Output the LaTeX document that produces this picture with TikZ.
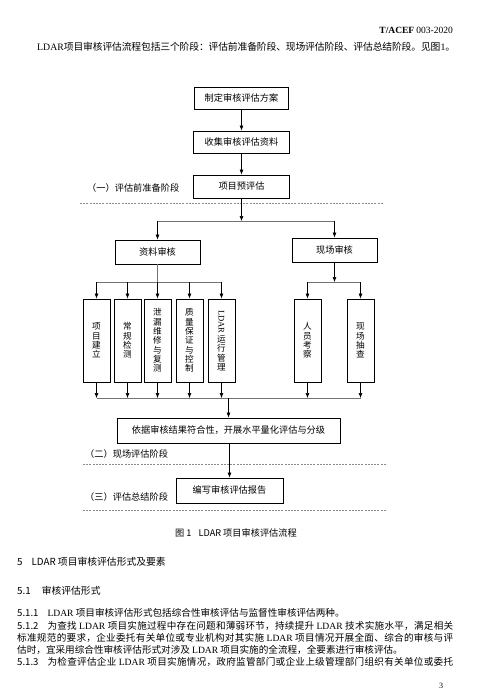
\documentclass[tikz,border=0pt]{standalone}
\usepackage{fontspec}
\usepackage{graphicx}
\setmainfont{Noto Sans CJK SC}
\newfontfamily\tms{Liberation Serif}
\usetikzlibrary{arrows.meta}
\newcount\cjkcc
\cjkcc="4E00
\loop \XeTeXcharclass\cjkcc=1 \advance\cjkcc by 1 \ifnum\cjkcc<"A000 \repeat
\XeTeXcharclass"3001=1 \XeTeXcharclass"3002=1 \XeTeXcharclass"FF0C=1 \XeTeXcharclass"FF1A=1
\XeTeXinterchartoks 1 1 = {\hskip 0pt plus 1pt minus 0.3pt\relax}
\XeTeXinterchartoks 0 1 = {\hskip 0pt plus 1pt minus 0.3pt\relax}
\XeTeXinterchartoks 1 0 = {\hskip 0pt plus 1pt minus 0.3pt\relax}
\newcommand\jline[2]{\makebox[#1][s]{\XeTeXinterchartokenstate=1 #2}}
\begin{document}
\begin{tikzpicture}[x=1pt,y=-1pt,
 box/.style={draw, line width=0.9pt, inner sep=0pt, font=\fontsize{9.2}{11}\selectfont},
 vbox/.style={draw, line width=0.9pt, inner sep=0pt, minimum width=27pt, minimum height=83pt, align=center, font=\fontsize{8.6}{9.3}\selectfont},
 arr/.style={-{Latex[length=5pt,width=4pt]}, line width=0.6pt},
 fork/.style={line width=0.6pt, draw=black!55},
 dsh/.style={draw=black!45, line width=0.5pt, dash pattern=on 2pt off 1.2pt},
 lbl/.style={anchor=west, inner sep=0pt, font=\fontsize{9.2}{11}\selectfont},
 txt/.style={anchor=west, inner sep=0pt}]
\fill[white] (0,0) rectangle (483,698);
\useasboundingbox (0,0) rectangle (483,698);

% header
\node[anchor=east, inner sep=0pt, font=\fontsize{9.5}{11}\selectfont] (hdr) at (453,30) {{\tms\bfseries T/ACEF} {\tms 003-2020}};
\node[txt, font=\fontsize{9.8}{12}\selectfont] (intro) at (37,47) {\jline{418pt}{{\tms LDAR}项目审核评估流程包括三个阶段：评估前准备阶段、现场评估阶段、评估总结阶段。见图{\tms 1}。}};

% flowchart
\node[box, minimum width=94pt, minimum height=22pt] (b1) at (241.5,98) {制定审核评估方案};
\node[box, minimum width=96pt, minimum height=22pt] (b2) at (241.5,142) {收集审核评估资料};
\node[box, minimum width=96pt, minimum height=23pt] (b3) at (241.5,186.5) {项目预评估};
\node[lbl] (l1) at (87,188) {（一）评估前准备阶段};
\draw[dsh] (80,203) -- (383,203);

\node[box, minimum width=85pt, minimum height=24pt] (zl) at (157.5,252) {资料审核};
\node[box, minimum width=85pt, minimum height=24pt] (xc) at (334.5,250) {现场审核};

\node[vbox] (v1) at (96.5,340.5) {项\\目\\建\\立};
\node[vbox] (v2) at (127.5,340.5) {常\\规\\检\\测};
\node[vbox] (v3) at (157.5,340.5) {泄\\漏\\维\\修\\与\\复\\测};
\node[vbox] (v4) at (189.5,340.5) {质\\量\\保\\证\\与\\控\\制};
\node[vbox] (v5) at (221.5,340.5) {\rotatebox{-90}{\tms LDAR}\\[1pt]运\\行\\管\\理};
\node[vbox] (v6) at (307.5,340.5) {人\\员\\考\\察};
\node[vbox] (v7) at (360.5,340.5) {现\\场\\抽\\查};

\node[box, minimum width=223pt, minimum height=25pt] (yj) at (228.5,430.5) {依据审核结果符合性，开展水平量化评估与分级};
\node[lbl] (l2) at (85,454) {（二）现场评估阶段};
\draw[dsh] (83,464) -- (387,464);
\node[box, minimum width=107pt, minimum height=25pt] (bx) at (229.5,490.5) {编写审核评估报告};
\node[lbl] (l3) at (85,497) {（三）评估总结阶段};
\draw[dsh] (83,510) -- (387,510);

% connectors
\draw[arr] (b1) -- (b2);
\draw[arr] (b2) -- (b3);
\coordinate (f1) at (241.5,221);
\draw[arr] (b3.south) -- (f1);
\draw[fork] (zl.north |- f1) -- (xc.north |- f1);
\draw[arr] (zl.north |- f1) -- (zl.north);
\draw[arr] (xc.north |- f1) -- (xc.north);
\coordinate (f2) at (0,282);
\draw[fork] (zl.south) -- (zl.south |- f2);
\draw[fork] (v1.north |- f2) -- (v5.north |- f2);
\foreach \i in {1,...,5} \draw[arr] (v\i.north |- f2) -- (v\i.north);
\draw[arr] (xc.south) -- (xc.south |- f2);
\draw[fork] (v6.north |- f2) -- (v7.north |- f2);
\foreach \i in {6,7} \draw[arr] (v\i.north |- f2) -- (v\i.north);
\coordinate (f3) at (0,398);
\foreach \i in {1,...,7} \draw[arr] (v\i.south) -- (v\i.south |- f3);
\draw[fork] (v1.south |- f3) -- (v7.south |- f3);
\draw[arr] (yj.north |- f3) -- (yj.north);
\draw[arr] (bx.north |- yj.south) -- (bx.north);

% caption and body
\node[inner sep=0pt, font=\fontsize{9.2}{11}\selectfont] (cap) at (236,533) {图 1\hspace{7pt}LDAR 项目审核评估流程};
\node[txt, font=\fontsize{9.8}{12}\selectfont] (h5) at (17,562) {5\hspace{9pt}LDAR 项目审核评估形式及要素};
\node[txt, font=\fontsize{9.8}{12}\selectfont] (h51) at (17,591) {5.1\hspace{11pt}审核评估形式};
\node[txt, font=\fontsize{9.6}{12}\selectfont] (p511) at (17,613) {5.1.1\hspace{9pt}{\tms LDAR} 项目审核评估形式包括综合性审核评估与监督性审核评估两种。};
\node[txt, font=\fontsize{9.6}{12}\selectfont] (p512a) at (17,626) {\jline{436pt}{5.1.2\hspace{9pt}为查找 {\tms LDAR} 项目实施过程中存在问题和薄弱环节，持续提升 {\tms LDAR} 技术实施水平，满足相关}};
\node[txt, font=\fontsize{9.6}{12}\selectfont] (p512b) at (17,638) {\jline{436pt}{标准规范的要求，企业委托有关单位或专业机构对其实施 {\tms LDAR} 项目情况开展全面、综合的审核与评}};
\node[txt, font=\fontsize{9.6}{12}\selectfont] (p512c) at (17,650) {估时，宜采用综合性审核评估形式对涉及 {\tms LDAR} 项目实施的全流程，全要素进行审核评估。};
\node[txt, font=\fontsize{9.6}{12}\selectfont] (p513) at (17,662) {\jline{436pt}{5.1.3\hspace{9pt}为检查评估企业 {\tms LDAR} 项目实施情况，政府监管部门或企业上级管理部门组织有关单位或委托}};
\node[inner sep=0pt, font=\fontsize{8}{10}\selectfont\tms] (pg) at (441,686) {3};
\end{tikzpicture}
\end{document}
